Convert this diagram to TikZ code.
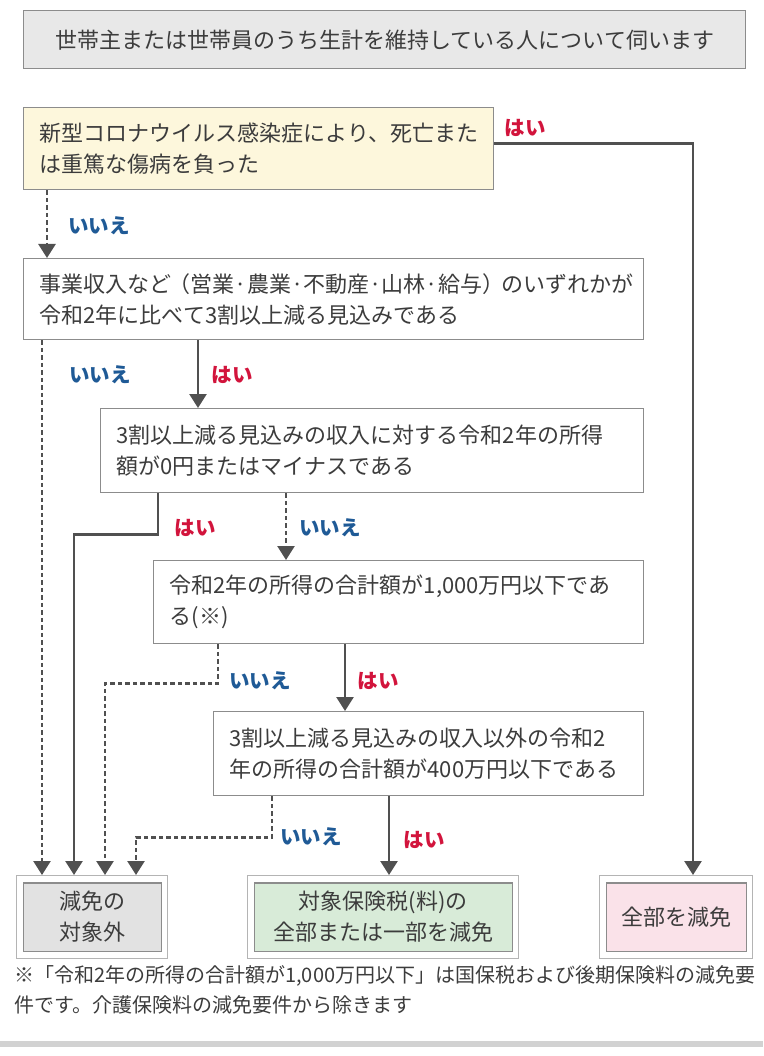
\documentclass[tikz,border=0pt]{standalone}
\usepackage{fontspec}
\setmainfont{Noto Sans CJK JP}
\usetikzlibrary{arrows.meta}
\definecolor{box edge}{HTML}{8C8C8C}
\definecolor{frame edge}{HTML}{B4B4B4}
\definecolor{ink}{HTML}{3C3C3C}
\definecolor{link}{HTML}{505050}
\definecolor{yes red}{HTML}{D2143C}
\definecolor{no blue}{HTML}{1F5A96}
\definecolor{title fill}{HTML}{E8E8E8}
\definecolor{first fill}{HTML}{FDF7DC}
\definecolor{none fill}{HTML}{E2E2E2}
\definecolor{part fill}{HTML}{D8EBD8}
\definecolor{all fill}{HTML}{FAE2E9}
\tikzset{question/.style={draw=box edge, line width=1.4pt, fill=white, anchor=north west,
        inner xsep=16pt, inner ysep=0pt, align=left, text=ink,
        font=\fontsize{22}{31}\selectfont},
    result/.style={draw=frame edge, line width=1pt, fill=white, anchor=north west,
        minimum height=83pt, inner sep=0pt, align=center, text=ink,
        font=\fontsize{22}{31}\selectfont,
        path picture={\draw[draw=box edge, line width=1.4pt, fill=#1]
            ([shift={(7pt,-7.5pt)}]path picture bounding box.north west) rectangle
            ([shift={(-6pt,7pt)}]path picture bounding box.south east);}},
    yes link/.style={draw=link, line width=2.6pt, -{Triangle[width=17pt,length=14pt]}},
    no link/.style={yes link, line width=2.5pt, dash pattern=on 4.5pt off 3pt},
    yes tag/.style={text=yes red, font=\bfseries\fontsize{20.5}{20}\selectfont, inner sep=1pt},
    no tag/.style={yes tag, text=no blue}}

\begin{document}
\begin{tikzpicture}[x=1pt,y=-1pt]
    \useasboundingbox (0,0) rectangle (763,1056);
    % questions
    \node[question, fill=title fill, align=center, inner xsep=0pt,
        minimum width=722pt, minimum height=58pt] (title) at (23,10)
        {世帯主または世帯員のうち生計を維持している人について伺います};
    \node[question, fill=first fill, text width=438pt, minimum height=82pt] (q1) at (23,107)
        {新型コロナウイルス感染症により、死亡また\\は重篤な傷病を負った};
    \node[question, text width=588pt, minimum height=81pt] (q2) at (23,258)
        {事業収入など\kern-3pt（営業·農業·不動産·山林·給与）\kern-3ptのいずれかが\\令和2年に比べて3割以上減る見込みである};
    \node[question, text width=511pt, minimum height=84pt] (q3) at (100,408)
        {3割以上減る見込みの収入に対する令和2年の所得\\額が0円またはマイナスである};
    \node[question, text width=458pt, minimum height=83pt] (q4) at (153,560)
        {令和2年の所得の合計額が1,000万円以下であ\\る(※)};
    \node[question, text width=398pt, minimum height=84pt] (q5) at (213,711)
        {3割以上減る見込みの収入以外の令和2\\年の所得の合計額が400万円以下である};
    % results
    \node[result=none fill, minimum width=151pt] (nonex) at (16,875) {減免の\\対象外};
    \node[result=part fill, minimum width=271pt] (partial) at (247,875) {対象保険税(料)の\\全部または一部を減免};
    \node[result=all fill, minimum width=153pt] (full) at (599,875) {全部を減免};
    \node[anchor=north west, inner sep=0pt, align=left, text=ink,
        font=\fontsize{20}{30}\selectfont] (note) at (14,965)
        {※「令和2年の所得の合計額が1,000万円以下」は国保税および後期保険料の減免要\\件です。介護保険料の減免要件から除きます};
    \fill[frame edge!60] (0,1041) rectangle (763,1047);
    % links
    \draw[yes link] ([yshift=5pt]q1.east) -| ([xshift=17pt]full.north);
    \draw[no link] ([xshift=24pt]q1.south west) -- ([xshift=24pt]q2.north west);
    \draw[no link] ([xshift=19pt]q2.south west) -- ([xshift=26pt]nonex.north west);
    \draw[yes link] ([xshift=175pt]q2.south west) -- ([xshift=98pt]q3.north west);
    \draw[yes link] ([xshift=58pt]q3.south west) -- ++(0,41) -| ([xshift=58pt]nonex.north west);
    \draw[no link] ([xshift=186pt]q3.south west) -- ([xshift=133pt]q4.north west);
    \draw[no link] ([xshift=65pt]q4.south west) -- ++(0,39) -| ([xshift=89pt]nonex.north west);
    \draw[yes link] ([xshift=192pt]q4.south west) -- ([xshift=132pt]q5.north west);
    \draw[no link] ([xshift=59pt]q5.south west) -- ++(0,41) -| ([xshift=120pt]nonex.north west);
    \draw[yes link] ([xshift=176pt]q5.south west) -- ([xshift=142pt]partial.north west);
    % answers
    \node[yes tag] (yes1) at (525,128) {はい};
    \node[no tag] (no1) at (99,226) {いいえ};
    \node[no tag] (no2) at (100,375) {いいえ};
    \node[yes tag] (yes2) at (232,375) {はい};
    \node[yes tag] (yes3) at (195,528) {はい};
    \node[no tag] (no3) at (330,528) {いいえ};
    \node[no tag] (no4) at (260,681) {いいえ};
    \node[yes tag] (yes4) at (378,681) {はい};
    \node[no tag] (no5) at (311,837) {いいえ};
    \node[yes tag] (yes5) at (424,840) {はい};
\end{tikzpicture}
\end{document}
